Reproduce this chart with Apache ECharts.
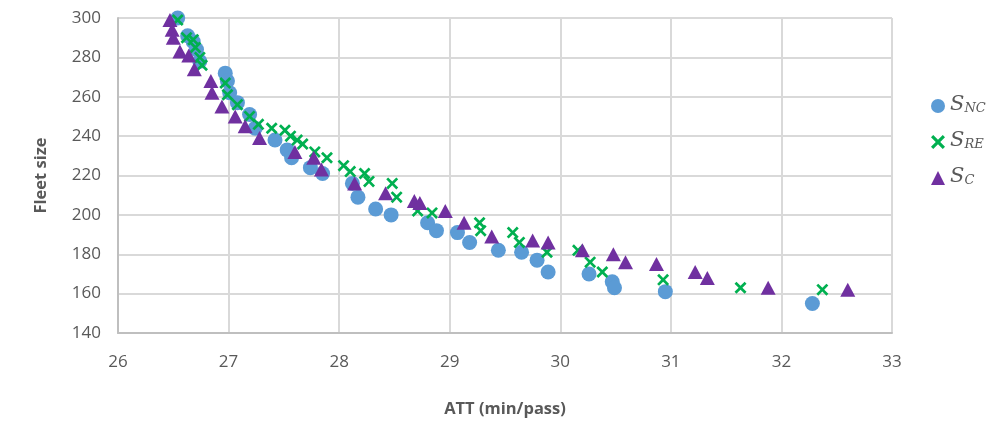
<!DOCTYPE html>
<html><head><meta charset="utf-8">
<script src="https://cdn.jsdelivr.net/npm/echarts@6/dist/echarts.min.js"></script>
<style>html,body{margin:0;padding:0;background:#fff}#c{width:995px;height:423px}</style>
</head><body><div id="c"></div>
<script>
// S_NC (blue circles): [ATT, fleet size]
const sNC = [
 [26.54,300],[26.63,291],[26.68,288],[26.71,284],[26.74,278],[26.97,272],[26.99,268],[27.01,262],
 [27.08,257],[27.19,251],[27.24,244],[27.42,238],[27.53,233],[27.57,229],[27.74,224],[27.85,221],
 [28.12,216],[28.17,209],[28.33,203],[28.47,200],[28.80,196],[28.88,192],[29.07,191],[29.18,186],
 [29.44,182],[29.65,181],[29.79,177],[29.89,171],[30.26,170],[30.47,166],[30.49,163],[30.95,161],
 [32.28,155]
];
// S_RE (green crosses)
const sRE = [
 [26.54,299],[26.62,290],[26.68,289],[26.70,285],[26.74,280],[26.76,276],[26.97,267],[26.99,261],
 [27.08,256],[27.19,250],[27.27,246],[27.39,244],[27.51,243],[27.56,240],[27.62,238],[27.67,236],
 [27.78,232],[27.89,229],[28.04,225],[28.10,222],[28.23,221],[28.27,217],[28.48,216],[28.52,209],
 [28.71,202],[28.84,201],[29.27,196],[29.28,192],[29.57,191],[29.63,186],[29.88,181],[30.16,182],
 [30.27,176],[30.38,171],[30.93,167],[31.63,163],[32.37,162]
];
// S_C (purple triangles)
const sC = [
 [26.47,299],[26.49,294],[26.50,290],[26.56,283],[26.64,281],[26.69,274],[26.84,268],[26.85,262],
 [26.94,255],[27.06,250],[27.15,245],[27.28,239],[27.60,232],[27.77,229],[27.84,223],[28.14,216],
 [28.42,211],[28.68,207],[28.73,206],[28.96,202],[29.13,196],[29.38,189],[29.75,187],[29.89,186],
 [30.20,182],[30.48,180],[30.59,176],[30.87,175],[31.22,171],[31.33,168],[31.88,163],[32.60,162]
];
const seriesNames = ['NC','RE','C'];
const xAxisRange = [26, 33, 1];
const yAxisRange = [140, 300, 20];

const crossPath = 'path://M0,1.6 L1.6,0 L5,3.4 L8.4,0 L10,1.6 L6.6,5 L10,8.4 L8.4,10 L5,6.6 L1.6,10 L0,8.4 L3.4,5 Z';
const gridColor = '#d9d9d9';
const labelColor = '#595959';
const font = 'Open Sans';

const chart = echarts.init(document.getElementById('c'), null, {renderer:'canvas'});
chart.setOption({
  animation:false,
  backgroundColor:'#fff',
  grid:{left:118, right:103, top:18, bottom:83, containLabel:false},
  xAxis:{
    type:'value', min:xAxisRange[0], max:xAxisRange[1], interval:xAxisRange[2],
    name:'ATT (min/pass)', nameLocation:'middle', nameGap:68,
    nameTextStyle:{color:labelColor, fontFamily:font, fontWeight:'bold', fontSize:16.5},
    axisLine:{show:true, lineStyle:{color:'#bfbfbf', width:2}},
    axisTick:{show:false},
    axisLabel:{color:labelColor, fontFamily:font, fontSize:17, margin:21},
    splitLine:{show:true, lineStyle:{color:gridColor, width:2}}
  },
  yAxis:{
    type:'value', min:yAxisRange[0], max:yAxisRange[1], interval:yAxisRange[2],
    name:'Fleet size', nameLocation:'middle', nameGap:68, nameRotate:90,
    nameTextStyle:{color:labelColor, fontFamily:font, fontWeight:'bold', fontSize:16.5},
    axisLine:{show:true, lineStyle:{color:'#bfbfbf', width:2}},
    axisTick:{show:false},
    axisLabel:{color:labelColor, fontFamily:font, fontSize:17, margin:17},
    splitLine:{show:true, lineStyle:{color:gridColor, width:2}}
  },
  legend:{
    orient:'vertical', left:926, top:89, itemGap:15, itemWidth:14, itemHeight:14,
    data:[
      {name:seriesNames[0], icon:'circle'},
      {name:seriesNames[1], icon:crossPath},
      {name:seriesNames[2], icon:'triangle'}
    ],
    formatter: n => '{s|S}{sub|' + n + '}',
    textStyle:{
      color:labelColor, height:24,
      rich:{
        s:{fontFamily:'DejaVu Serif', fontStyle:'italic', fontSize:21, color:labelColor, verticalAlign:'bottom'},
        sub:{fontFamily:'DejaVu Serif', fontStyle:'italic', fontSize:13, color:labelColor, verticalAlign:'bottom', padding:[7,0,0,0]}
      }
    }
  },
  series:[
    {name:seriesNames[0], type:'scatter', data:sNC, symbol:'circle', symbolSize:15,
     itemStyle:{color:'#5b9bd5', opacity:1}},
    {name:seriesNames[1], type:'scatter', data:sRE, symbol:crossPath, symbolSize:12,
     itemStyle:{color:'#00b050', opacity:1}},
    {name:seriesNames[2], type:'scatter', data:sC, symbol:'triangle', symbolSize:[15,14],
     itemStyle:{color:'#7030a0', opacity:1}}
  ]
});
</script></body></html>
